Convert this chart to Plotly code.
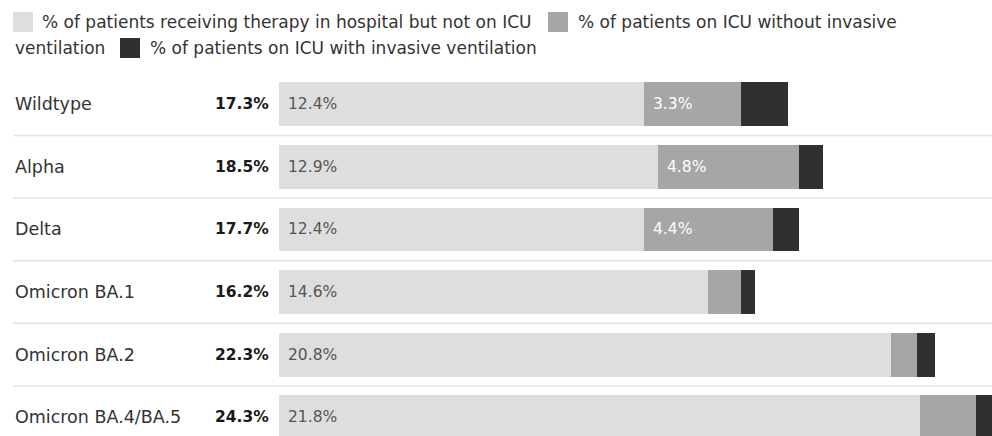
import plotly.graph_objects as go

# Share of patients by variant, split by level of care (percent)
variants = ["Wildtype", "Alpha", "Delta", "Omicron BA.1", "Omicron BA.2", "Omicron BA.4/BA.5"]
ward_only = [12.4, 12.9, 12.4, 14.6, 20.8, 21.8]
icu_no_vent = [3.3, 4.8, 4.4, 1.1, 0.9, 1.9]
icu_vent = [1.6, 0.8, 0.9, 0.5, 0.6, 0.6]
totals = [17.3, 18.5, 17.7, 16.2, 22.3, 24.3]

series_names = [
    "% of patients receiving therapy in hospital but not on ICU",
    "% of patients on ICU without invasive ventilation",
    "% of patients on ICU with invasive ventilation",
]
colors = ["#dedede", "#a6a6a6", "#303030"]

W, H = 992, 436
L, R, T, B = 279, 0, 73, 0
PW, PH = W - L - R, H - T - B
FONT = "DejaVu Sans, Open Sans, Arial, sans-serif"
TXT = "#333333"


def px_x(x):
    return (x - L) / PW


def px_y(y):
    return (H - B - y) / PH


fig = go.Figure()
for vals, name, col in zip([ward_only, icu_no_vent, icu_vent], series_names, colors):
    fig.add_trace(go.Bar(
        y=list(range(len(variants))), x=vals, name=name, orientation="h",
        marker=dict(color=col, line=dict(width=0)), width=0.70,
        hoverinfo="x+name",
    ))

ann = []
shapes = []
for i, v in enumerate(variants):
    # row label
    ann.append(dict(x=px_x(13), xref="paper", y=i, yref="y", text=v, showarrow=False,
                    xanchor="left", yanchor="middle",
                    font=dict(family=FONT, size=17.5, color=TXT)))
    # total
    ann.append(dict(x=px_x(271), xref="paper", y=i, yref="y", text=f"<b>{totals[i]:.1f}%</b>",
                    showarrow=False, xanchor="right", yanchor="middle",
                    font=dict(family=FONT, size=15.5, color="#1a1a1a")))
    # ward-only value inside first segment
    ann.append(dict(x=0, xref="x", y=i, yref="y", text=f"{ward_only[i]:.1f}%", showarrow=False,
                    xanchor="left", yanchor="middle", xshift=7,
                    font=dict(family=FONT, size=15.5, color="#555555")))
    # ICU w/o ventilation value when the segment is wide enough
    if icu_no_vent[i] >= 3:
        ann.append(dict(x=ward_only[i], xref="x", y=i, yref="y", text=f"{icu_no_vent[i]:.1f}%",
                        showarrow=False, xanchor="left", yanchor="middle", xshift=7,
                        font=dict(family=FONT, size=15.5, color="#ffffff")))
    # row separators
    if i < len(variants) - 1:
        shapes.append(dict(type="line", xref="paper", yref="y", x0=px_x(13), x1=1.0,
                           y0=i + 0.5, y1=i + 0.5, line=dict(color="#e2e2e2", width=1.5),
                           layer="below"))

# legend built from swatches and text
legend_items = [
    (13, 22, 0),
    (548, 22, 1),
    (120, 48, 2),
]
for sx, cy, k in legend_items:
    shapes.append(dict(type="rect", xref="paper", yref="paper",
                       x0=px_x(sx), x1=px_x(sx + 20), y0=px_y(cy + 10), y1=px_y(cy - 10),
                       fillcolor=colors[k], line=dict(width=0)))
legend_texts = [
    (40, 22, series_names[0]),
    (576, 22, "% of patients on ICU without invasive"),
    (13, 48, "ventilation"),
    (148, 48, series_names[2]),
]
for tx, cy, t in legend_texts:
    ann.append(dict(x=px_x(tx), xref="paper", y=px_y(cy), yref="paper", text=t,
                    showarrow=False, xanchor="left", yanchor="middle",
                    font=dict(family=FONT, size=17, color=TXT)))

fig.update_layout(
    barmode="stack",
    width=W, height=H,
    margin=dict(l=L, r=R, t=T, b=B, pad=0),
    paper_bgcolor="white", plot_bgcolor="white",
    showlegend=False,
    xaxis=dict(range=[0, 24.25], visible=False, fixedrange=True),
    yaxis=dict(range=[5.3, -0.5], visible=False, fixedrange=True),
    annotations=ann, shapes=shapes,
    bargap=0,
)

fig.write_html("out.html")
